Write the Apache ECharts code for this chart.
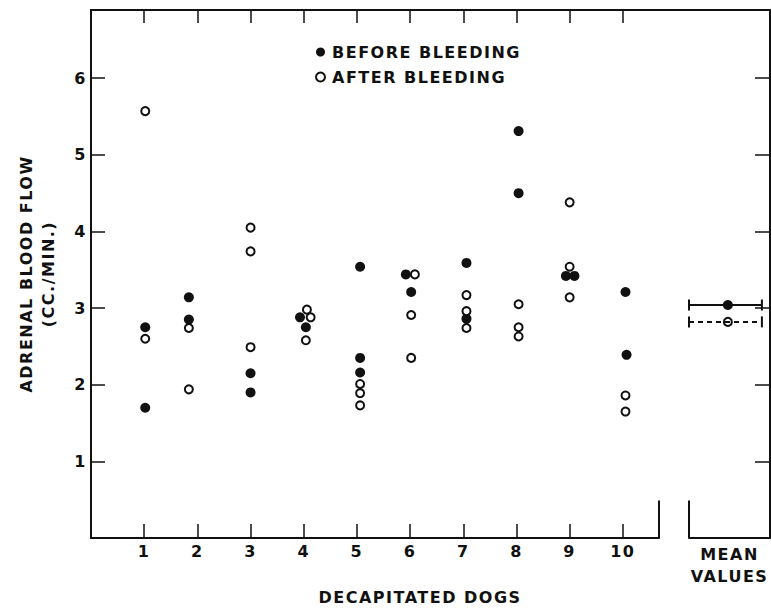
<!DOCTYPE html>
<html>
<head>
<meta charset="utf-8">
<script src="https://cdn.jsdelivr.net/npm/echarts@6/dist/echarts.min.js"></script>
<style>
	html,body{margin:0;padding:0;background:#fff;}
	#chart{width:771px;height:610px;}
	/* the figure's lettering is spaced out */
	#chart text{letter-spacing:1.5px;}
</style>
</head>
<body>
<div id="chart"></div>
<script type="text/javascript">
	// dog numbers on the x axis, flow ticks on the y axis
	var dogs = [1,2,3,4,5,6,7,8,9,10];
	var flowTicks = [1,2,3,4,5,6];

	// [dog position, flow cc/min] - touching dots are nudged sideways as in the figure
	var beforeBleeding = [
		[1.02,2.75],[1.02,1.70],
		[1.84,3.14],[1.84,2.85],
		[3.00,2.15],[3.00,1.90],
		[3.93,2.88],[4.04,2.75],
		[5.06,3.54],[5.06,2.35],[5.06,2.16],
		[5.92,3.44],[6.02,3.21],
		[7.06,3.59],[7.06,2.86],
		[8.04,5.31],[8.04,4.50],
		[8.93,3.42],[9.09,3.42],
		[10.05,3.21],[10.07,2.39]
	];
	var afterBleeding = [
		[1.02,5.57],[1.02,2.60],
		[1.84,2.74],[1.84,1.94],
		[3.00,4.05],[3.00,3.74],[3.00,2.49],
		[4.06,2.98],[4.13,2.88],[4.04,2.58],
		[5.06,2.01],[5.06,1.89],[5.06,1.73],
		[6.09,3.44],[6.02,2.91],[6.02,2.35],
		[7.06,3.17],[7.06,2.96],[7.06,2.74],
		[8.04,3.05],[8.04,2.75],[8.04,2.63],
		[9.00,4.38],[9.00,3.54],[9.00,3.14],
		[10.05,1.86],[10.05,1.65]
	];

	// mean values panel
	var meanBefore = 3.04;
	var meanAfter = 2.82;
	var meanX = 0.48;
	var meanSpan = [0,0.9];

	var INK = '#111';
	var FONT = 'DejaVu Sans';
	var txt = {color:INK,fontFamily:FONT,fontSize:16,fontWeight:'bold'};

	var chart = echarts.init(document.getElementById('chart'),null,{renderer:'svg'});

	var option = {
		animation:false,
		backgroundColor:'#fff',
		textStyle:{fontFamily:FONT},
		grid:[
			{left:91,top:10,width:568,height:528},	//dogs
			{left:689,top:10,width:81,height:528},	//mean values
			{left:91,top:10,width:679,height:528}	//top border across the gap
		],
		legend:{
			data:['BEFORE BLEEDING','AFTER BLEEDING'],
			orient:'vertical',
			left:315,
			top:44,
			padding:0,
			itemWidth:9,
			itemHeight:9,
			itemGap:9,
			textStyle:Object.assign({padding:[0,0,0,2]},txt),
			selectedMode:false
		},
		xAxis:[
			{
				gridIndex:0,type:'value',min:0,max:10.68,position:'bottom',
				axisLine:{onZero:false,lineStyle:{color:INK,width:2}},
				axisTick:{inside:true,length:14,customValues:dogs,lineStyle:{color:INK,width:1.5}},
				axisLabel:Object.assign({customValues:dogs,margin:5},txt),
				splitLine:{show:false},
				name:'DECAPITATED DOGS',nameLocation:'middle',nameGap:51,
				nameTextStyle:Object.assign({padding:[0,0,0,90]},txt)
			},
			{
				gridIndex:0,type:'value',min:0,max:10.68,position:'top',
				axisLine:{onZero:false,lineStyle:{color:INK,width:2}},
				axisTick:{inside:true,length:13,customValues:dogs,lineStyle:{color:INK,width:1.5}},
				axisLabel:{show:false},
				splitLine:{show:false}
			},
			{
				gridIndex:1,type:'value',min:0,max:1,position:'bottom',
				axisLine:{onZero:false,lineStyle:{color:INK,width:2}},
				axisTick:{show:false},
				axisLabel:{show:false},
				splitLine:{show:false},
				name:'MEAN\nVALUES',nameLocation:'middle',nameGap:5,
				nameTextStyle:Object.assign({lineHeight:22},txt)
			},
			{
				gridIndex:2,type:'value',min:0,max:1,position:'top',
				axisLine:{onZero:false,lineStyle:{color:INK,width:2}},
				axisTick:{show:false},
				axisLabel:{show:false},
				splitLine:{show:false}
			}
		],
		yAxis:[
			{
				gridIndex:0,type:'value',min:0,max:6.89,position:'left',
				axisLine:{show:true,onZero:false,lineStyle:{color:INK,width:2}},
				axisTick:{show:true,inside:true,length:14,customValues:flowTicks,lineStyle:{color:INK,width:1.5}},
				axisLabel:Object.assign({customValues:flowTicks,margin:4},txt),
				splitLine:{show:false},
				name:'ADRENAL BLOOD FLOW\n(CC./MIN.)',nameLocation:'middle',nameGap:32,
				nameTextStyle:Object.assign({lineHeight:22},txt)
			},
			{
				gridIndex:1,type:'value',min:0,max:6.89,position:'right',
				axisLine:{show:true,onZero:false,lineStyle:{color:INK,width:2}},
				axisTick:{show:true,inside:true,length:15,customValues:flowTicks,lineStyle:{color:INK,width:1.5}},
				axisLabel:{show:false},
				splitLine:{show:false}
			},
			{gridIndex:2,type:'value',min:0,max:1,show:false}
		],
		series:[
			//short uprights at the break in the bottom axis
			{
				name:'break',type:'line',xAxisIndex:0,yAxisIndex:0,silent:true,symbol:'none',
				lineStyle:{color:INK,width:2},
				data:[[10.68,0],[10.68,0.49]]
			},
			{
				name:'break2',type:'line',xAxisIndex:2,yAxisIndex:1,silent:true,symbol:'none',
				lineStyle:{color:INK,width:2},
				data:[[0,0],[0,0.49]]
			},
			{
				name:'BEFORE BLEEDING',type:'scatter',xAxisIndex:0,yAxisIndex:0,
				symbol:'circle',symbolSize:10,
				itemStyle:{color:INK,opacity:1},
				data:beforeBleeding
			},
			{
				name:'AFTER BLEEDING',type:'scatter',xAxisIndex:0,yAxisIndex:0,
				symbol:'circle',symbolSize:8,
				itemStyle:{color:'#fff',borderColor:INK,borderWidth:2,opacity:1},
				data:afterBleeding
			},
			//mean values
			{
				name:'mean before bar',type:'line',xAxisIndex:2,yAxisIndex:1,silent:true,
				symbol:'rect',symbolSize:[2,11],itemStyle:{color:INK},
				lineStyle:{color:INK,width:2},
				data:[[meanSpan[0],meanBefore],[meanSpan[1],meanBefore]]
			},
			{
				name:'mean after bar',type:'line',xAxisIndex:2,yAxisIndex:1,silent:true,
				symbol:'rect',symbolSize:[2,11],itemStyle:{color:INK},
				lineStyle:{color:INK,width:2,type:[5,4]},
				data:[[meanSpan[0],meanAfter],[meanSpan[1],meanAfter]]
			},
			{
				name:'mean before',type:'scatter',xAxisIndex:2,yAxisIndex:1,
				symbol:'circle',symbolSize:10,itemStyle:{color:INK,opacity:1},
				data:[[meanX,meanBefore]]
			},
			{
				name:'mean after',type:'scatter',xAxisIndex:2,yAxisIndex:1,
				symbol:'circle',symbolSize:8,
				itemStyle:{color:'#fff',borderColor:INK,borderWidth:2,opacity:1},
				data:[[meanX,meanAfter]]
			}
		]
	};

	chart.setOption(option);
</script>
</body>
</html>
